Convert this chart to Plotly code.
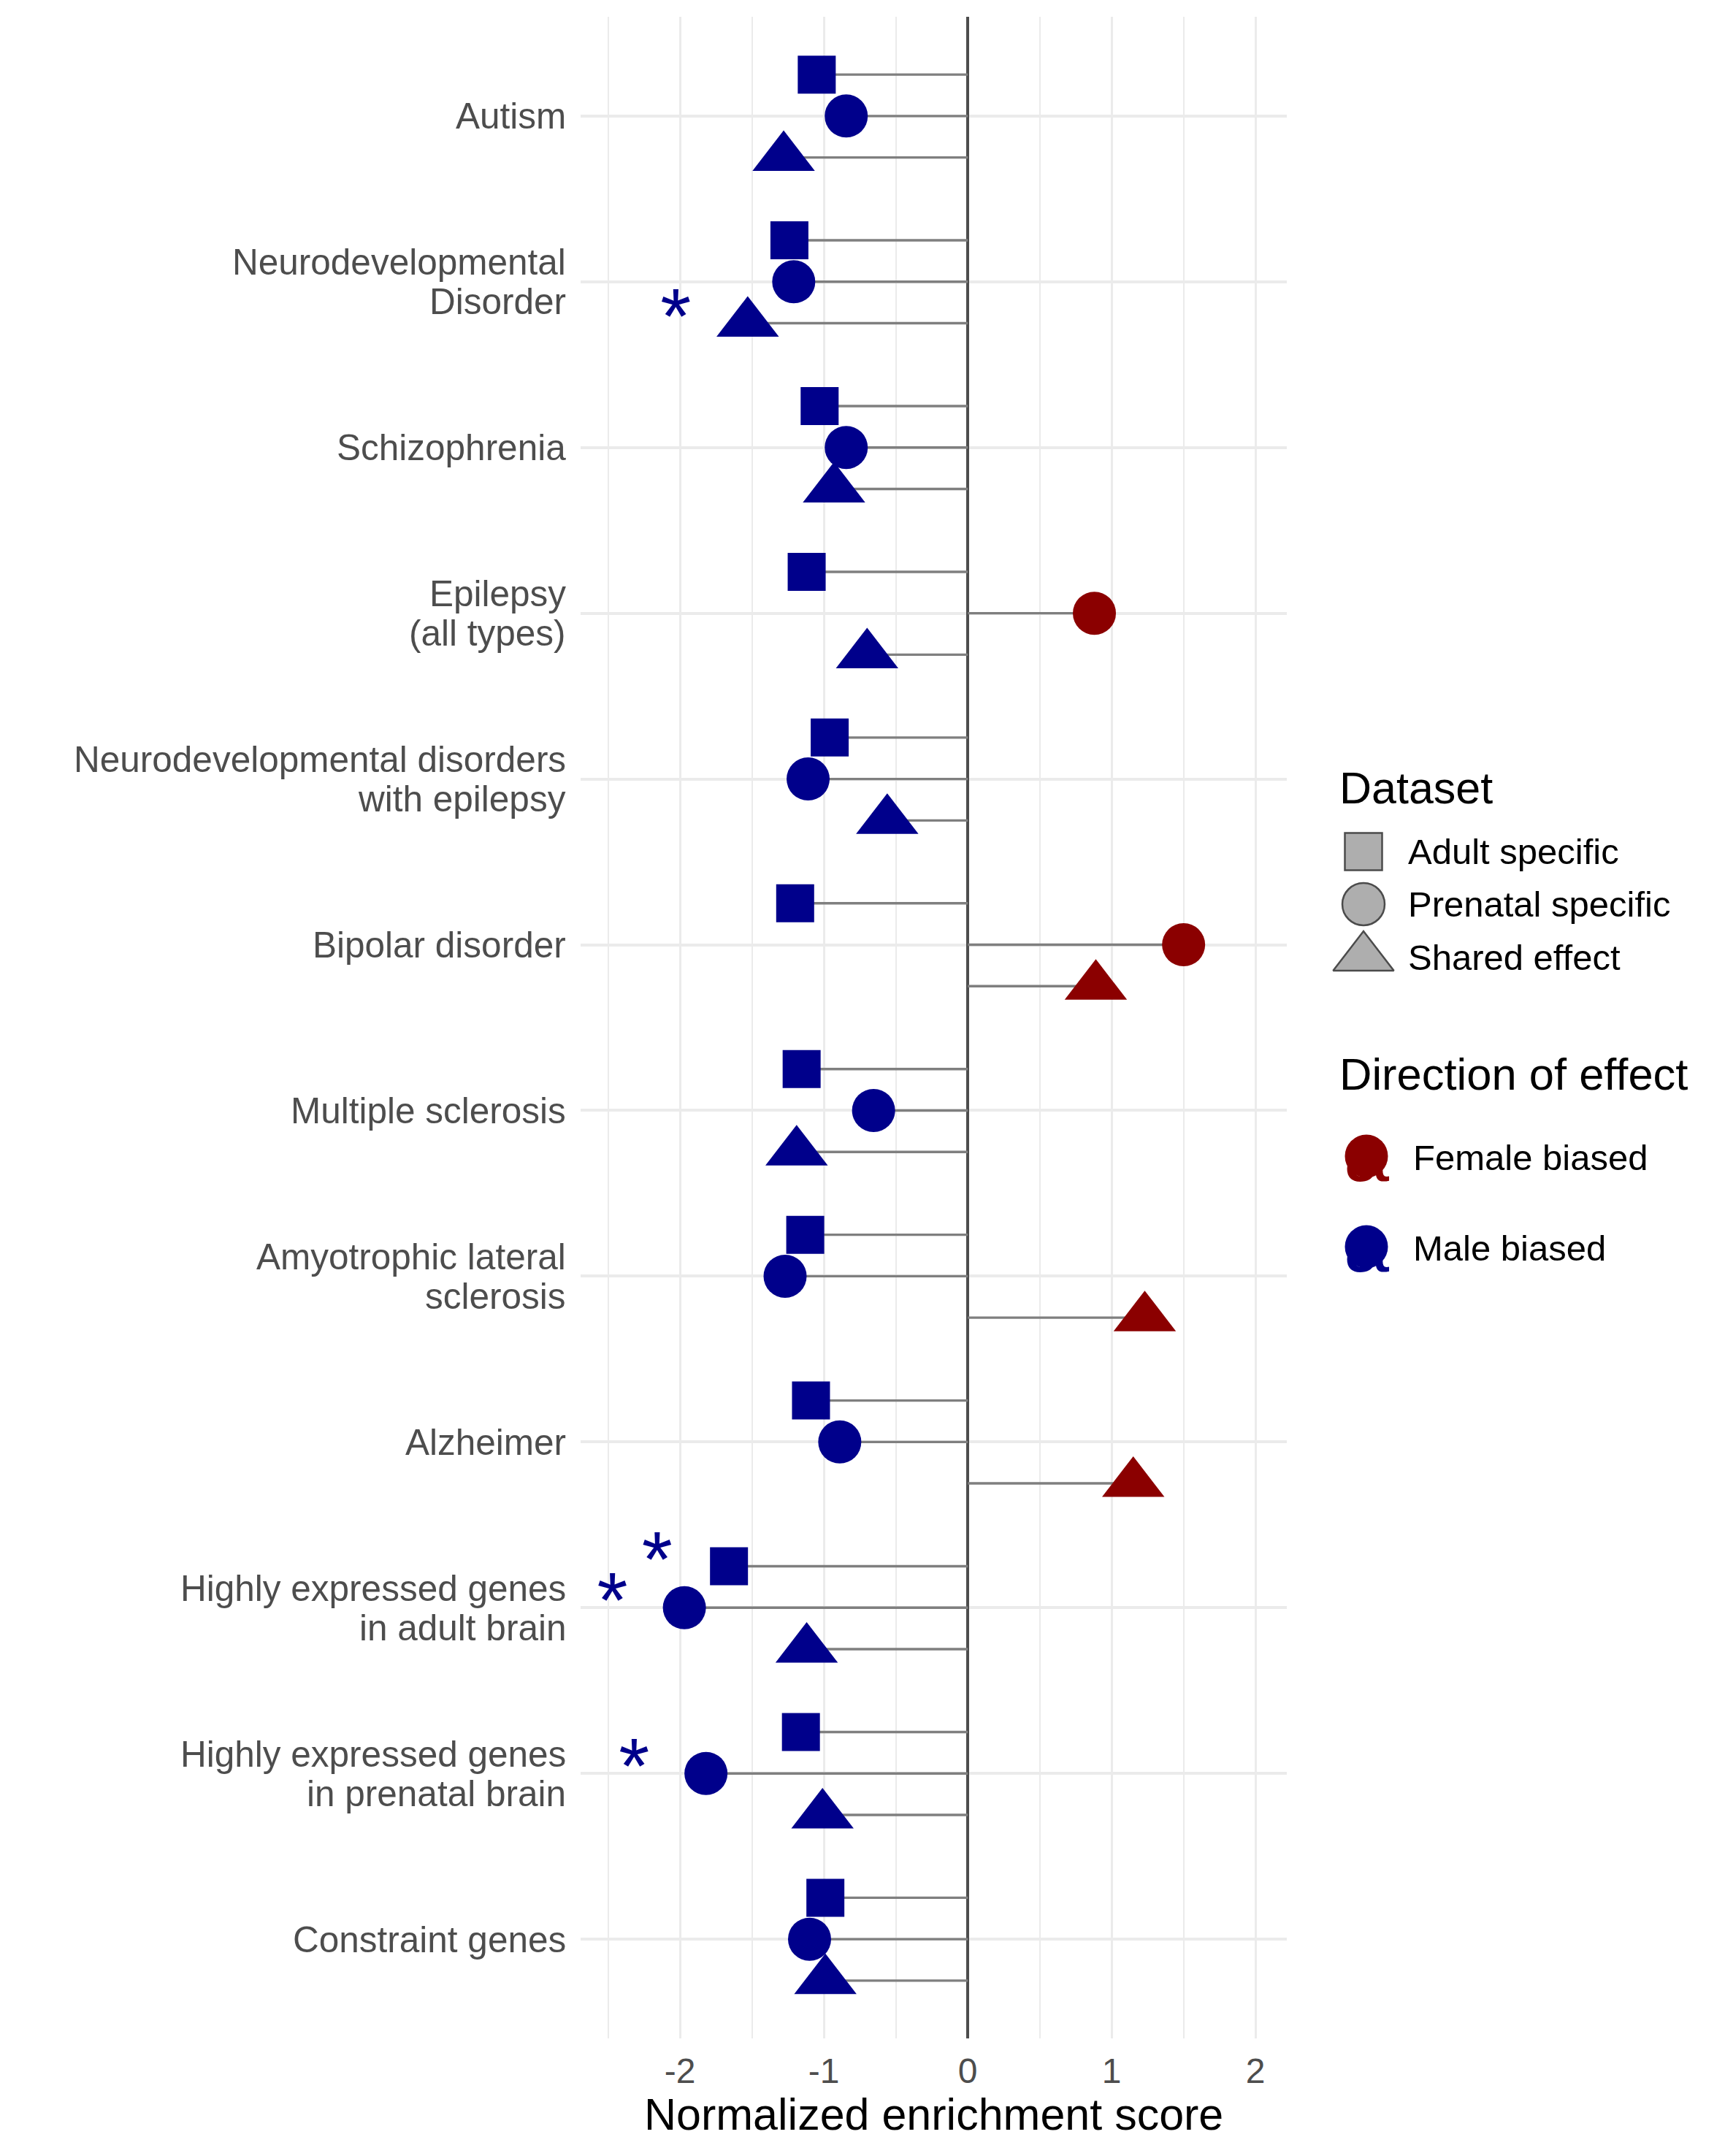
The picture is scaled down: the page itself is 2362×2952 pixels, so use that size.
import plotly.graph_objects as go

# ---------------- data ----------------
categories = [
    "Autism",
    "Neurodevelopmental\nDisorder",
    "Schizophrenia",
    "Epilepsy\n(all types)",
    "Neurodevelopmental disorders\nwith epilepsy",
    "Bipolar disorder",
    "Multiple sclerosis",
    "Amyotrophic lateral\nsclerosis",
    "Alzheimer",
    "Highly expressed genes\nin adult brain",
    "Highly expressed genes\nin prenatal brain",
    "Constraint genes",
]
datasets = ["Adult specific", "Prenatal specific", "Shared effect"]
adult_nes = [-1.05, -1.24, -1.03, -1.12, -0.96, -1.20, -1.155, -1.13, -1.09, -1.66, -1.16, -0.99]
prenatal_nes = [-0.845, -1.21, -0.845, 0.88, -1.11, 1.50, -0.655, -1.27, -0.89, -1.97, -1.82, -1.10]
shared_nes = [-1.28, -1.53, -0.93, -0.70, -0.56, 0.89, -1.19, 1.23, 1.15, -1.12, -1.01, -0.99]
adult_sig = [False, False, False, False, False, False, False, False, False, True, False, False]
prenatal_sig = [False, False, False, False, False, False, False, False, False, True, True, False]
shared_sig = [False, True, False, False, False, False, False, False, False, False, False, False]
directions = ["Female biased", "Male biased"]
x_tick_vals = [-2, -1, 0, 1, 2]
x_tick_text = ["-2", "-1", "0", "1", "2"]
x_minor_vals = [-2.5, -1.5, -0.5, 0.5, 1.5]
x_title = "Normalized enrichment score"
legend_title_dataset = "Dataset"
legend_title_direction = "Direction of effect"

# ---------------- style ----------------
W, H = 2362, 2952
NAVY, DARKRED = "#00008B", "#8B0000"
FONT = "Liberation Sans, Arial, sans-serif"
series = {"Adult specific": adult_nes, "Prenatal specific": prenatal_nes, "Shared effect": shared_nes}
sig = {"Adult specific": adult_sig, "Prenatal specific": prenatal_sig, "Shared effect": shared_sig}
symbols = {"Adult specific": ("square", 52), "Prenatal specific": ("circle", 59), "Shared effect": ("triangle-up", 74)}
dodge = {"Adult specific": -0.25, "Prenatal specific": 0.0, "Shared effect": 0.25}
dir_color = {"Female biased": DARKRED, "Male biased": NAVY}
STAR_OFFSET = -0.5


def direction_of(v):
    return "Female biased" if v > 0 else "Male biased"


fig = go.Figure()

# segments from 0 to the value
seg_x, seg_y = [], []
for ds, vals in series.items():
    for i, v in enumerate(vals):
        y = i + dodge[ds]
        seg_x += [0, v, None]
        seg_y += [y, y, None]
fig.add_trace(go.Scatter(x=seg_x, y=seg_y, mode="lines",
                         line=dict(color="#7F7F7F", width=3.4),
                         hoverinfo="skip", showlegend=False))

# points
for ds, vals in series.items():
    sym, size = symbols[ds]
    fig.add_trace(go.Scatter(
        x=vals, y=[i + dodge[ds] for i in range(len(vals))], mode="markers",
        marker=dict(symbol=sym, size=size,
                    color=[dir_color[direction_of(v)] for v in vals], line=dict(width=0)),
        name=ds, showlegend=False))

# significance asterisks
ax, ay, ac = [], [], []
for ds, vals in series.items():
    for i, (v, s) in enumerate(zip(vals, sig[ds])):
        if s:
            ax.append(v + STAR_OFFSET)
            ay.append(i + dodge[ds])
            ac.append(dir_color[direction_of(v)])
fig.add_trace(go.Scatter(x=ax, y=ay, mode="text", text=["*"] * len(ax),
                         textposition="middle center",
                         textfont=dict(size=108, color=ac, family=FONT),
                         showlegend=False, hoverinfo="skip"))

# ---------------- legend (drawn on a pixel-space overlay axis) ----------------
KEY_X = 1867
ds_key_y = [1166, 1238, 1311]
fig.add_trace(go.Scatter(
    x=[KEY_X] * 3, y=ds_key_y, mode="markers", xaxis="x2", yaxis="y2",
    marker=dict(symbol=[symbols[d][0] for d in datasets],
                size=[51, 58, 72], color="#8C8C8C",
                line=dict(color="black", width=2.5)),
    showlegend=False, hoverinfo="skip"))
dir_key_y = [1583, 1707]
fig.add_trace(go.Scatter(
    x=[1871] * 2, y=[y + 6 for y in dir_key_y], mode="text", xaxis="x2", yaxis="y2",
    text=["a", "a"], textposition="middle center",
    textfont=dict(size=112, color=[dir_color[d] for d in directions], family=FONT),
    showlegend=False, hoverinfo="skip"))
fig.add_trace(go.Scatter(
    x=[1871] * 2, y=dir_key_y, mode="markers", xaxis="x2", yaxis="y2",
    marker=dict(symbol="circle", size=59, color=[dir_color[d] for d in directions], line=dict(width=0)),
    showlegend=False, hoverinfo="skip"))

annotations = []
annotations.append(dict(text=legend_title_dataset, x=1832, y=1079, xref="x2", yref="y2",
                        xanchor="left", yanchor="middle", showarrow=False,
                        font=dict(size=61, color="black", family=FONT)))
for d, y in zip(datasets, ds_key_y):
    annotations.append(dict(text=d, x=1926, y=y, xref="x2", yref="y2",
                            xanchor="left", yanchor="middle", showarrow=False,
                            font=dict(size=49, color="black", family=FONT)))
annotations.append(dict(text=legend_title_direction, x=1832, y=1470, xref="x2", yref="y2",
                        xanchor="left", yanchor="middle", showarrow=False,
                        font=dict(size=61.5, color="black", family=FONT)))
for d, y in zip(directions, dir_key_y):
    annotations.append(dict(text=d, x=1933, y=y + 2, xref="x2", yref="y2",
                            xanchor="left", yanchor="middle", showarrow=False,
                            font=dict(size=49, color="black", family=FONT)))

# category labels (one annotation per line for ggplot-like line spacing)
LINE_GAP = 53.6
for i, cat in enumerate(categories):
    lines = cat.split("\n")
    n = len(lines)
    for k, line in enumerate(lines):
        annotations.append(dict(text=line, x=777 / W, y=i, xref="paper", yref="y",
                                xanchor="right", yanchor="middle", showarrow=False,
                                yshift=((n - 1) / 2 - k) * LINE_GAP,
                                font=dict(size=49.5, color="#4D4D4D", family=FONT)))

# x axis title
annotations.append(dict(text=x_title, x=0.5, y=2895, xref="x domain", yref="y2",
                        xanchor="center", yanchor="middle", showarrow=False,
                        font=dict(size=61, color="black", family=FONT)))

fig.update_layout(
    width=W, height=H,
    margin=dict(l=0, r=0, t=0, b=0, pad=0),
    paper_bgcolor="white", plot_bgcolor="rgba(0,0,0,0)",
    showlegend=False,
    font=dict(family=FONT),
    xaxis=dict(domain=[794.5 / W, 1762.1 / W], range=[-2.694, 2.218],
               tickmode="array", tickvals=x_tick_vals, ticktext=x_tick_text,
               tickfont=dict(size=48, color="#4D4D4D", family=FONT),
               ticks="", ticklabelstandoff=12,
               showgrid=True, gridcolor="#EBEBEB", gridwidth=3.3,
               minor=dict(tickmode="array", tickvals=x_minor_vals, showgrid=True,
                          gridcolor="#EBEBEB", gridwidth=2.2, ticks=""),
               zeroline=True, zerolinecolor="#4D4D4D", zerolinewidth=3.8,
               showline=False, anchor="y", fixedrange=True),
    yaxis=dict(domain=[(H - 2791.3) / H, (H - 22.7) / H], range=[11.6, -0.6],
               tickmode="array", tickvals=list(range(len(categories))),
               showticklabels=False, ticks="",
               showgrid=True, gridcolor="#EBEBEB", gridwidth=3.6,
               zeroline=False, showline=False, anchor="x", fixedrange=True),
    xaxis2=dict(domain=[0, 1], range=[0, W], visible=False, anchor="y2", fixedrange=True),
    yaxis2=dict(domain=[0, 1], range=[H, 0], visible=False, anchor="x2", fixedrange=True),
    annotations=annotations,
)

fig.write_html("out.html")
